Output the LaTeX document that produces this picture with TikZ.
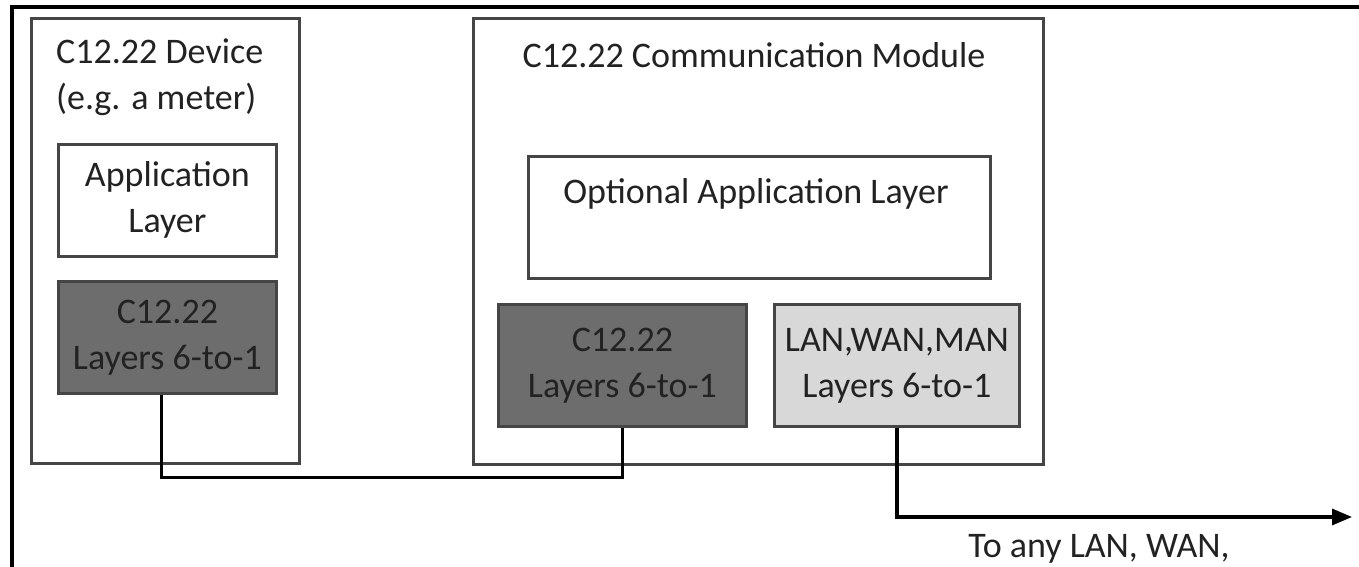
\documentclass[tikz,border=0pt]{standalone}
\usepackage{fontspec}
\setmainfont{Carlito}
\usetikzlibrary{arrows.meta}
\definecolor{boxline}{HTML}{454545}
\definecolor{darkfill}{HTML}{6D6D6D}
\definecolor{lightfill}{HTML}{D8D8D8}
\definecolor{textcol}{HTML}{222222}
\tikzset{
  lbl/.style={text=textcol, font=\fontsize{36}{46}\selectfont, align=center, inner sep=0pt},
  frame/.style={draw=boxline, line width=2.8pt, fill=white, inner sep=0pt, anchor=north west},
  layer/.style={frame, lbl},
  darklayer/.style={layer, fill=darkfill},
  lightlayer/.style={layer, fill=lightfill},
  wire/.style={draw=black, line width=3.2pt},
}
\begin{document}
\begin{tikzpicture}[x=1pt, y=-1pt]
  \useasboundingbox (0,0) rectangle (1359,567);
  % outer page frame (top and left edges)
  \draw[line width=3.5pt, black] (12,567) -- (12,7) -- (1359,7);

  % C12.22 device
  \node[frame, minimum width=268pt, minimum height=445pt] (device) at (30,17) {};
  \node[lbl, align=left, anchor=north west] (devtitle) at (56,39) {C12.22 Device\\(e.g. a meter)};
  \node[layer, minimum width=218pt, minimum height=112pt] (app) at (57,143) {Application\\Layer};
  \node[darklayer, minimum width=218pt, minimum height=112pt] (dev1) at (57,280) {C12.22\\Layers 6-to-1};

  % C12.22 communication module
  \node[frame, minimum width=570pt, minimum height=446pt] (module) at (472,17) {};
  \node[lbl, anchor=north] (modtitle) at (754,42) {C12.22 Communication Module};
  \node[frame, minimum width=462pt, minimum height=122pt] (optapp) at (527,155) {};
  \node[lbl, anchor=north] (optlbl) at (756,178) {Optional Application Layer};
  \node[darklayer, minimum width=248pt, minimum height=122pt] (mod1) at (497,303) {C12.22\\Layers 6-to-1};
  \node[lightlayer, minimum width=245pt, minimum height=122pt] (lan) at (773,303) {LAN,WAN,MAN\\Layers 6-to-1};

  % links
  \coordinate (net) at (1352,517);
  \draw[wire] ([xshift=-6pt]dev1.south) -- ++(0,83) -| (mod1.south);
  \draw[wire, -{Triangle[length=20pt, width=16pt]}] (lan.south) |- (net);
  \node[lbl, anchor=base] (netlbl) at (1099,557) {To any LAN, WAN,};
\end{tikzpicture}
\end{document}
